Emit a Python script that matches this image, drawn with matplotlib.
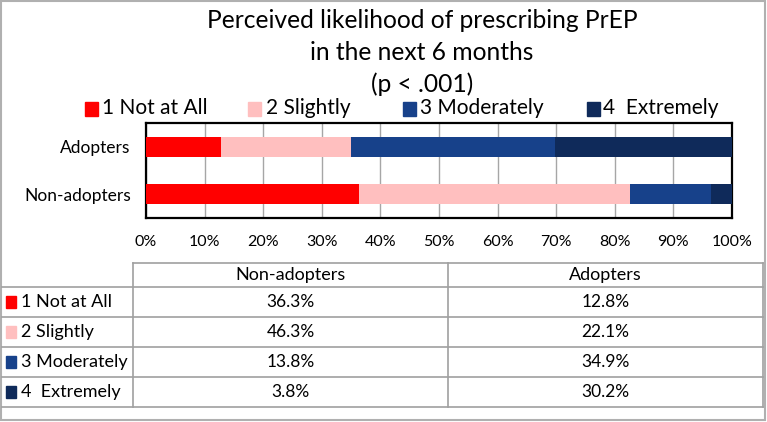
import matplotlib
matplotlib.use("Agg")
import matplotlib.pyplot as plt
from matplotlib.patches import Rectangle
from matplotlib.lines import Line2D

# ---- data ----
groups = ["Non-adopters", "Adopters"]
levels = ["1 Not at All", "2 Slightly", "3 Moderately", "4  Extremely"]
non_adopters = [36.3, 46.3, 13.8, 3.8]
adopters = [12.8, 22.1, 34.9, 30.2]
colors = ["#FF0000", "#FFBFBF", "#17418A", "#0F2A5A"]
xticks = [0, 10, 20, 30, 40, 50, 60, 70, 80, 90, 100]
title_lines = ["Perceived likelihood of prescribing PrEP",
               "in the next 6 months",
               "(p < .001)"]

W, H = 767, 422
FONT = "Lato"
plt.rcParams["font.family"] = [FONT, "DejaVu Sans"]

fig = plt.figure(figsize=(W / 100, H / 100), dpi=100)


def fx(x):
    return x / W


def fy(y):
    return 1 - y / H


# ---- axes ----
ax_l, ax_r, ax_t, ax_b = 146, 732, 123, 218
ax = fig.add_axes([fx(ax_l), fy(ax_b), (ax_r - ax_l) / W, (ax_b - ax_t) / H])
series = {"Non-adopters": non_adopters, "Adopters": adopters}
for gi, g in enumerate(groups):
    left = 0
    for li, v in enumerate(series[g]):
        ax.barh(gi, v, left=left, height=0.43, color=colors[li], zorder=3)
        left += v
ax.set_xlim(0, 100)
ax.set_ylim(-0.5, 1.5)
ax.set_xticks(xticks)
ax.set_xticklabels([f"{t}%" for t in xticks], fontsize=11.5)
ax.set_yticks(range(len(groups)))
ax.set_yticklabels(groups, fontsize=12.5)
ax.tick_params(length=0, pad=12, axis="x")
ax.tick_params(length=0, pad=11, axis="y")
ax.grid(axis="x", color="#A6A6A6", lw=1, zorder=0)
for s in ax.spines.values():
    s.set_linewidth(1.6)
    s.set_color("black")

# ---- title ----
for t, y in zip(title_lines, [20, 52, 84]):
    fig.text(fx(422), fy(y), t, ha="center", va="center", fontsize=17.7)

# ---- legend ----
leg_pos = [(85, 102), (248, 266), (403, 420), (587, 603)]
for (sx, tx), lab, c in zip(leg_pos, levels, colors):
    fig.patches.append(Rectangle((fx(sx), fy(116)), 13 / W, 14 / H,
                                 transform=fig.transFigure, color=c))
    fig.text(fx(tx), fy(108), lab, ha="left", va="center", fontsize=15)

# ---- table ----
row_lines = [263, 287, 317, 347, 377, 407]
col_x = [133, 448, 763]
lc = "#A0A0A0"
for i, y in enumerate(row_lines):
    x0 = col_x[0] if i == 0 else 2
    fig.add_artist(Line2D([fx(x0), fx(col_x[-1])], [fy(y), fy(y)], color=lc, lw=1.2))
for x in col_x:
    fig.add_artist(Line2D([fx(x), fx(x)], [fy(row_lines[0]), fy(row_lines[-1])],
                          color=lc, lw=1.2))

header_cols = ["Non-adopters", "Adopters"]
for ci, g in enumerate(header_cols):
    cx = (col_x[ci] + col_x[ci + 1]) / 2
    fig.text(fx(cx), fy((row_lines[0] + row_lines[1]) / 2), g,
             ha="center", va="center", fontsize=13)
    for ri, v in enumerate(series[g]):
        cy = (row_lines[ri + 1] + row_lines[ri + 2]) / 2
        fig.text(fx(cx), fy(cy), f"{v:.1f}%", ha="center", va="center",
                 fontsize=12.5)
for ri, (lab, c) in enumerate(zip(levels, colors)):
    cy = (row_lines[ri + 1] + row_lines[ri + 2]) / 2
    fig.patches.append(Rectangle((fx(6), fy(cy + 6)), 10 / W, 12 / H,
                                 transform=fig.transFigure, color=c))
    fig.text(fx(21), fy(cy), lab, ha="left", va="center", fontsize=13)

# outer frame
fig.patches.append(Rectangle((fx(1), fy(420)), (W - 3) / W, 419 / H,
                             transform=fig.transFigure, fill=False,
                             ec="#B0B0B0", lw=1.5))

fig.savefig("out.png", dpi=100)
